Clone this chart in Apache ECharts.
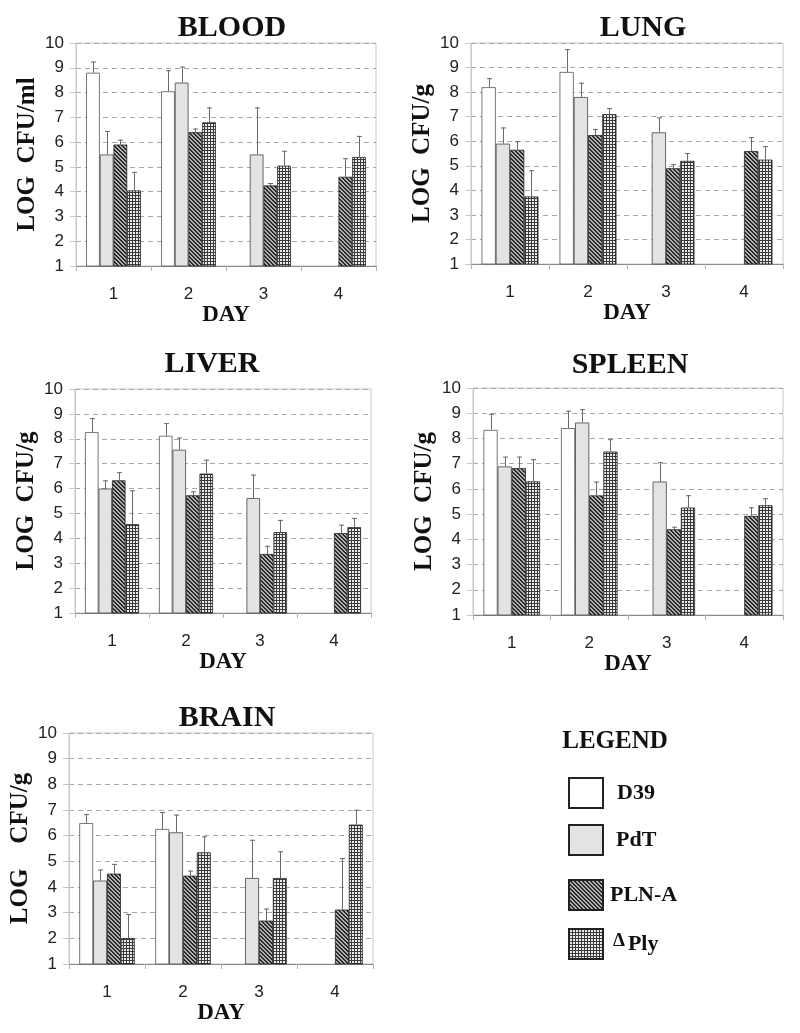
<!DOCTYPE html>
<html><head><meta charset="utf-8">
<script src="https://cdn.jsdelivr.net/npm/echarts/dist/echarts.min.js"></script>
<style>html,body{margin:0;padding:0;background:#fff}#c{width:800px;height:1033px}</style>
</head><body><div id="c"></div>
<script>
const days = ['1', '2', '3', '4'];
const strains = ['D39', 'PdT', 'PLN-A', 'ΔPly'];
const panelTitles = ['BLOOD', 'LUNG', 'LIVER', 'SPLEEN', 'BRAIN'];
const yNames = ['LOG  CFU/ml', 'LOG  CFU/g', 'LOG  CFU/g', 'LOG  CFU/g', 'LOG    CFU/g'];
const xName = 'DAY';

// mean values (LOG CFU) per strain, days 1..4 (null = no surviving animals)
const bloodD39 = [8.8, 8.05, null, null];
const bloodPdT = [5.5, 8.4, 5.5, null];
const bloodPLN = [5.9, 6.4, 4.25, 4.6];
const bloodPly = [4.05, 6.8, 5.05, 5.4];
const bloodD39Err = [9.25, 8.9, null, null];
const bloodPdTErr = [6.45, 9.05, 7.4, null];
const bloodPLNErr = [6.1, 6.55, 4.35, 5.35];
const bloodPlyErr = [4.8, 7.4, 5.65, 6.25];

const lungD39 = [8.2, 8.82, null, null];
const lungPdT = [5.9, 7.8, 6.36, null];
const lungPLN = [5.65, 6.25, 4.9, 5.6];
const lungPly = [3.75, 7.1, 5.2, 5.25];
const lungD39Err = [8.57, 9.75, null, null];
const lungPdTErr = [6.56, 8.38, 6.97, null];
const lungPLNErr = [6.0, 6.5, 5.07, 6.17];
const lungPlyErr = [4.82, 7.35, 5.52, 5.8];

const liverD39 = [8.27, 8.12, null, null];
const liverPdT = [6.0, 7.56, 5.62, null];
const liverPLN = [6.33, 5.73, 3.37, 4.21];
const liverPly = [4.57, 6.6, 4.25, 4.45];
const liverD39Err = [8.83, 8.63, null, null];
const liverPdTErr = [6.33, 8.05, 6.56, null];
const liverPLNErr = [6.66, 5.89, 3.7, 4.55];
const liverPlyErr = [5.93, 7.16, 4.74, 4.82];

const spleenD39 = [8.34, 8.41, null, null];
const spleenPdT = [6.89, 8.63, 6.29, null];
const spleenPLN = [6.82, 5.74, 4.4, 4.93];
const spleenPly = [6.3, 7.48, 5.26, 5.35];
const spleenD39Err = [8.98, 9.1, null, null];
const spleenPdTErr = [7.28, 9.16, 7.06, null];
const spleenPLNErr = [7.28, 6.29, 4.5, 5.27];
const spleenPlyErr = [7.18, 7.97, 5.75, 5.63];

const brainD39 = [6.49, 6.26, null, null];
const brainPdT = [4.25, 6.13, 4.35, null];
const brainPLN = [4.52, 4.44, 2.69, 3.12];
const brainPly = [2.01, 5.35, 4.35, 6.43];
const brainD39Err = [6.84, 6.92, null, null];
const brainPdTErr = [4.68, 6.82, 5.84, null];
const brainPLNErr = [4.9, 4.64, 3.16, 5.13];
const brainPlyErr = [2.95, 5.97, 5.39, 7.01];

const panelValues = [
  [bloodD39, bloodPdT, bloodPLN, bloodPly],
  [lungD39, lungPdT, lungPLN, lungPly],
  [liverD39, liverPdT, liverPLN, liverPly],
  [spleenD39, spleenPdT, spleenPLN, spleenPly],
  [brainD39, brainPdT, brainPLN, brainPly]
];
const panelErrors = [
  [bloodD39Err, bloodPdTErr, bloodPLNErr, bloodPlyErr],
  [lungD39Err, lungPdTErr, lungPLNErr, lungPlyErr],
  [liverD39Err, liverPdTErr, liverPLNErr, liverPlyErr],
  [spleenD39Err, spleenPdTErr, spleenPLNErr, spleenPlyErr],
  [brainD39Err, brainPdTErr, brainPLNErr, brainPlyErr]
];

// ---------- layout / style ----------
const grids = [
  {left: 76, top: 43, width: 300, height: 223},
  {left: 471, top: 43, width: 312, height: 221},
  {left: 75, top: 389, width: 296, height: 224},
  {left: 473, top: 388, width: 310, height: 227},
  {left: 69, top: 733, width: 304, height: 231}
];
const titlePos = [[232, 28], [643, 28], [212, 364], [630, 365], [227, 718]];
const SERIF = '"Liberation Serif","Times New Roman",serif';
const SANS = '"Liberation Sans",Arial,sans-serif';
const CAT_GAP = 0.27;

function makeHatch() {
  const c = document.createElement('canvas'); c.width = 4; c.height = 4;
  const g = c.getContext('2d');
  g.fillStyle = '#b0b0b0'; g.fillRect(0, 0, 4, 4);
  g.fillStyle = '#2a2a2a';
  for (let i = 0; i < 4; i++) { g.fillRect(i, i, 1, 1); g.fillRect((i + 1) % 4, i, 1, 1); }
  return c;
}
function makeGrid() {
  const c = document.createElement('canvas'); c.width = 3; c.height = 3;
  const g = c.getContext('2d');
  g.fillStyle = '#ececec'; g.fillRect(0, 0, 3, 3);
  g.fillStyle = '#3a3a3a';
  g.fillRect(0, 0, 3, 1); g.fillRect(0, 0, 1, 3);
  return c;
}
const fills = [
  '#ffffff',
  '#e3e3e3',
  {image: makeHatch(), repeat: 'repeat'},
  {image: makeGrid(), repeat: 'repeat'}
];
const borders = ['#555', '#444', '#222', '#222'];

function errRender(si) {
  return function (params, api) {
    const x = api.value(0), v = api.value(1), e = api.value(2);
    const p0 = api.coord([x, v]);
    const p1 = api.coord([x, e]);
    const band = api.size([1, 0])[0];
    const bw = band * (1 - CAT_GAP) / 4;
    const cx = Math.round(p0[0] + (si - 1.5) * bw) + 0.5;
    return {
      type: 'group',
      children: [
        {type: 'line', shape: {x1: cx, y1: p0[1], x2: cx, y2: p1[1]}, style: {stroke: '#6a6a6a', lineWidth: 1}},
        {type: 'line', shape: {x1: cx - 2.5, y1: p1[1] + 0.5, x2: cx + 2.5, y2: p1[1] + 0.5}, style: {stroke: '#6a6a6a', lineWidth: 1}}
      ]
    };
  };
}

const option = {
  backgroundColor: '#ffffff',
  animation: false,
  grid: grids.map(g => Object.assign({show: true, borderColor: '#c8c8c8', borderWidth: 1, backgroundColor: 'transparent'}, g)),
  xAxis: grids.map((g, i) => ({
    type: 'category', gridIndex: i, data: days,
    axisLine: {lineStyle: {color: '#8a8a8a', width: 1}},
    axisTick: {show: true, length: 5, lineStyle: {color: '#b0b0b0'}},
    axisLabel: {fontSize: 17, color: '#222', fontFamily: SANS, margin: 20},
    name: xName, nameLocation: 'middle', nameGap: 36,
    nameTextStyle: {fontFamily: SERIF, fontWeight: 'bold', fontSize: 23, color: '#111'}
  })),
  yAxis: grids.map((g, i) => ({
    type: 'value', gridIndex: i, min: 1, max: 10, interval: 1,
    axisLine: {show: true, lineStyle: {color: '#c8c8c8'}},
    axisTick: {show: true, length: 6, lineStyle: {color: '#c8c8c8'}},
    splitLine: {show: true, lineStyle: {color: '#a8a8a8', type: [5, 4], width: 1}},
    axisLabel: {fontSize: 17, color: '#222', fontFamily: SANS, margin: 12},
    name: yNames[i], nameLocation: 'middle', nameGap: 36, nameRotate: 90,
    nameTextStyle: {fontFamily: SERIF, fontWeight: 'bold', fontSize: 25, color: '#111'}
  })),
  legend: strains.map((s, k) => ({
    data: [s], orient: 'vertical', left: 568, top: [777, 824, 879, 928][k], padding: 0,
    itemWidth: 34, itemHeight: 30, icon: 'rect', selectedMode: false,
    itemStyle: {borderColor: '#222', borderWidth: 2},
    formatter: n => n === 'ΔPly' ? '{d|Δ}Ply' : n,
    textStyle: {
      fontFamily: SERIF, fontWeight: 'bold', fontSize: 22, color: '#111',
      padding: [0, 0, 0, [9, 8, 2, 5][k]],
      rich: {d: {fontFamily: SERIF, fontSize: 19, color: '#111', padding: [0, 3, 6, 0]}}
    }
  })),
  graphic: panelTitles.map((t, i) => ({
    type: 'text', x: titlePos[i][0], y: titlePos[i][1],
    style: {text: t, fill: '#111', font: 'bold 30px ' + SERIF, align: 'center', verticalAlign: 'middle', textAlign: 'center', textVerticalAlign: 'middle'}
  })).concat([{
    type: 'text', x: 615, y: 742,
    style: {text: 'LEGEND', fill: '#111', font: 'bold 25px ' + SERIF, align: 'center', verticalAlign: 'middle', textAlign: 'center', textVerticalAlign: 'middle'}
  }]),
  series: []
};

panelValues.forEach((vals, pi) => {
  vals.forEach((arr, si) => {
    option.series.push({
      type: 'bar', name: strains[si], xAxisIndex: pi, yAxisIndex: pi,
      data: arr.map(v => v === null ? '-' : v),
      barGap: '0%', barCategoryGap: (CAT_GAP * 100) + '%',
      itemStyle: {color: fills[si], borderColor: borders[si], borderWidth: 0.8},
      emphasis: {disabled: true}
    });
  });
  vals.forEach((arr, si) => {
    const errArr = panelErrors[pi][si];
    const d = [];
    arr.forEach((v, k) => { if (v !== null && errArr[k] !== null) d.push([k, v, errArr[k]]); });
    option.series.push({
      type: 'custom', name: 'err-' + pi + '-' + si, xAxisIndex: pi, yAxisIndex: pi,
      renderItem: errRender(si), data: d, encode: {x: 0, y: [1, 2]}, z: 3, silent: true
    });
  });
});

const chart = echarts.init(document.getElementById('c'));
chart.setOption(option);
</script>
</body></html>
